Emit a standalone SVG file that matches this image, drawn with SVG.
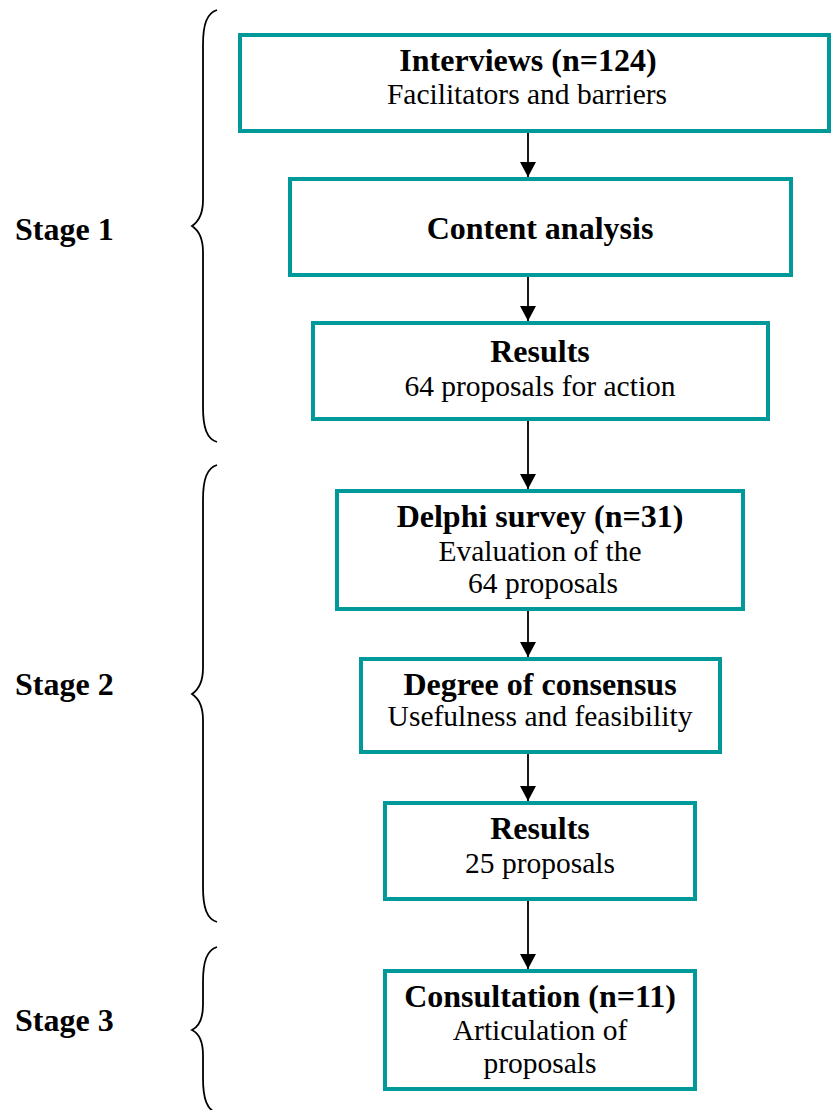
<svg xmlns="http://www.w3.org/2000/svg" width="833" height="1110" viewBox="0 0 833 1110">
<style>
.box{fill:#ffffff;stroke:#009999;stroke-width:4}
.b{font-family:"Liberation Serif","Times New Roman",serif;font-weight:bold;font-size:32px;fill:#000;text-anchor:middle}
.r{font-family:"Liberation Serif","Times New Roman",serif;font-size:29.5px;fill:#000;text-anchor:middle}
.st{font-family:"Liberation Serif","Times New Roman",serif;font-weight:bold;font-size:32px;fill:#000}
.brace{fill:none;stroke:#000;stroke-width:1.8}
.conn{stroke:#000;stroke-width:1.8;fill:none}
</style>
<defs>
<marker id="ah" markerUnits="userSpaceOnUse" markerWidth="16" markerHeight="16" viewBox="0 0 16 16" refX="15" refY="8" orient="auto">
<path d="M0,0 L15,8 L0,16 Z" fill="#000"/>
</marker>
</defs>
<rect width="833" height="1110" fill="#fff"/>
<g id="stages">
<g id="stage1"><path class="brace" d="M217,10 C207,13 203,24 203,45 L203,200 C203,215 198,222 192,226 C198,230 203,237 203,252 L203,407 C203,428 207,439 217,442"/><text class="st" x="15" y="240">Stage 1</text></g>
<g id="stage2"><path class="brace" d="M217,465 C207,468 203,479 203,500 L203,668 C203,683 198,690 192,694 C198,698 203,705 203,720 L203,887 C203,908 207,919 217,922"/><text class="st" x="15" y="695">Stage 2</text></g>
<g id="stage3"><path class="brace" d="M217,947 C207,950 203,961 203,982 L203,1005 C203,1020 198,1027 192,1030 C198,1033 203,1040 203,1055 L203,1078 C203,1099 207,1110 217,1113"/><text class="st" x="15" y="1031">Stage 3</text></g>
</g>
<g id="connectors">
<line class="conn" x1="528" y1="133" x2="528" y2="177" marker-end="url(#ah)"/>
<line class="conn" x1="528" y1="277" x2="528" y2="321" marker-end="url(#ah)"/>
<line class="conn" x1="528" y1="421" x2="528" y2="489" marker-end="url(#ah)"/>
<line class="conn" x1="528" y1="611" x2="528" y2="657" marker-end="url(#ah)"/>
<line class="conn" x1="528" y1="754" x2="528" y2="801" marker-end="url(#ah)"/>
<line class="conn" x1="528" y1="901" x2="528" y2="969" marker-end="url(#ah)"/>
</g>
<g id="interviews"><rect class="box" x="240" y="35" width="589" height="96"/><text class="b" x="528" y="71">Interviews (n=124)</text><text class="r" x="527" y="104">Facilitators and barriers</text></g>
<g id="content-analysis"><rect class="box" x="290" y="179" width="501" height="96"/><text class="b" x="540" y="239">Content analysis</text></g>
<g id="results1"><rect class="box" x="313" y="323" width="455" height="96"/><text class="b" x="540" y="362">Results</text><text class="r" x="540" y="396">64 proposals for action</text></g>
<g id="delphi"><rect class="box" x="337" y="491" width="406" height="118"/><text class="b" x="540" y="527">Delphi survey (n=31)</text><text class="r" x="540" y="561">Evaluation of the</text><text class="r" x="543" y="593">64 proposals</text></g>
<g id="consensus"><rect class="box" x="361" y="659" width="359" height="93"/><text class="b" x="540" y="695">Degree of consensus</text><text class="r" x="540" y="726">Usefulness and feasibility</text></g>
<g id="results2"><rect class="box" x="385" y="803" width="310" height="96"/><text class="b" x="540" y="839">Results</text><text class="r" x="540" y="873">25 proposals</text></g>
<g id="consultation"><rect class="box" x="385" y="971" width="310" height="118"/><text class="b" x="540" y="1007">Consultation (n=11)</text><text class="r" x="540" y="1040">Articulation of</text><text class="r" x="540" y="1073">proposals</text></g>
</svg>
